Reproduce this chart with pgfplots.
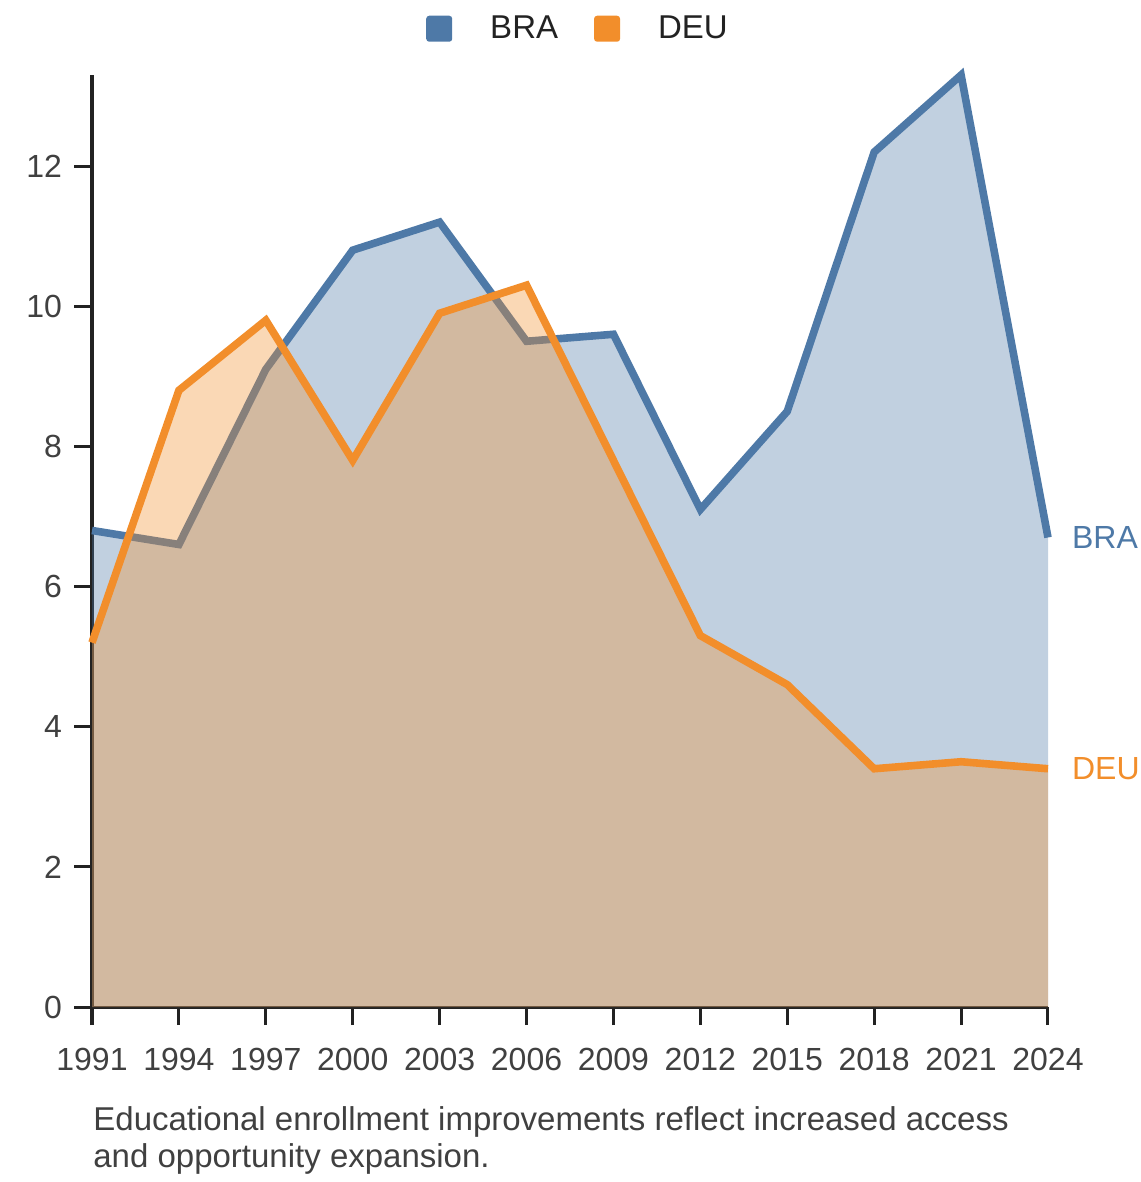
\documentclass[border=0pt]{standalone}
\usepackage{fontspec}
\setmainfont{Liberation Sans}
\usepackage{pgfplots}
\pgfplotsset{compat=1.18}
\definecolor{brablue}{HTML}{4E79A7}
\definecolor{deuorange}{HTML}{F28E2B}
\definecolor{axisgray}{HTML}{222222}
\definecolor{labelgray}{HTML}{404040}
\begin{document}
\begin{tikzpicture}
\begin{axis}[
  scale only axis,
  width=478pt, height=466pt,
  xmin=1991, xmax=2024, ymin=0, ymax=13.3,
  axis x line*=bottom, axis y line*=left,
  axis line style={axisgray, line width=1.5pt},
  xtick={1991,1994,...,2024},
  ytick={0,2,...,12},
  tick align=outside,
  major tick length=9pt,
  tick style={axisgray, line width=1.5pt},
  /pgf/number format/assume math mode=true,
  x tick label style={/pgf/number format/1000 sep={}, font=\fontsize{16}{19}\selectfont, text=labelgray, yshift=-8pt},
  y tick label style={font=\fontsize{16}{19}\selectfont, text=labelgray, xshift=-2.5pt},
  clip=false,
  legend columns=2,
  legend style={at={(0.5,1)}, anchor=south, yshift=12.5pt, xshift=4.5pt, draw=none, fill=none,
    font=\fontsize{16.5}{19}\selectfont, text=axisgray,
    /tikz/every even column/.append style={column sep=16pt},
    legend cell align=left},
]
\addplot[draw=none, fill=brablue, fill opacity=0.35, forget plot] coordinates {
(1991,6.8) (1994,6.6) (1997,9.1) (2000,10.8) (2003,11.2) (2006,9.5) (2009,9.6) (2012,7.1) (2015,8.5) (2018,12.2) (2021,13.3) (2024,6.7)
} \closedcycle;
\addplot[brablue, line width=3.8pt,
  legend image code/.code={\fill[brablue, draw=none, rounded corners=1.5pt] (0pt,-6.5pt) rectangle (13pt,6.5pt);}] coordinates {
(1991,6.8) (1994,6.6) (1997,9.1) (2000,10.8) (2003,11.2) (2006,9.5) (2009,9.6) (2012,7.1) (2015,8.5) (2018,12.2) (2021,13.3) (2024,6.7)
};
\addlegendentry{\hspace{17pt}BRA}
\addplot[draw=none, fill=deuorange, fill opacity=0.35, forget plot] coordinates {
(1991,5.2) (1994,8.8) (1997,9.8) (2000,7.8) (2003,9.9) (2006,10.3) (2009,7.8) (2012,5.3) (2015,4.6) (2018,3.4) (2021,3.5) (2024,3.4)
} \closedcycle;
\addplot[deuorange, line width=3.8pt,
  legend image code/.code={\fill[deuorange, draw=none, rounded corners=1.5pt] (0pt,-6.5pt) rectangle (13pt,6.5pt);}] coordinates {
(1991,5.2) (1994,8.8) (1997,9.8) (2000,7.8) (2003,9.9) (2006,10.3) (2009,7.8) (2012,5.3) (2015,4.6) (2018,3.4) (2021,3.5) (2024,3.4)
};
\addlegendentry{\hspace{17pt}DEU}
\node[anchor=west, text=brablue, font=\fontsize{16}{19}\selectfont, xshift=8.5pt] at (axis cs:2024,6.7) {BRA};
\node[anchor=west, text=deuorange, font=\fontsize{16}{19}\selectfont, xshift=8.5pt] at (axis cs:2024,3.4) {DEU};
\coordinate (O) at (rel axis cs:0,0);
\coordinate (T) at (rel axis cs:1,1);
\end{axis}
\node[anchor=base west, align=left, text=labelgray, font=\fontsize{16.5}{18.5}\selectfont, inner sep=0pt] at ([yshift=-80pt,xshift=0.5pt]O) {Educational enrollment improvements reflect increased access\\and opportunity expansion.};
\pgfresetboundingbox
\path ([xshift=-46pt,yshift=-87.5pt]O) rectangle ([xshift=46pt,yshift=37.5pt]T);
\end{tikzpicture}
\end{document}
